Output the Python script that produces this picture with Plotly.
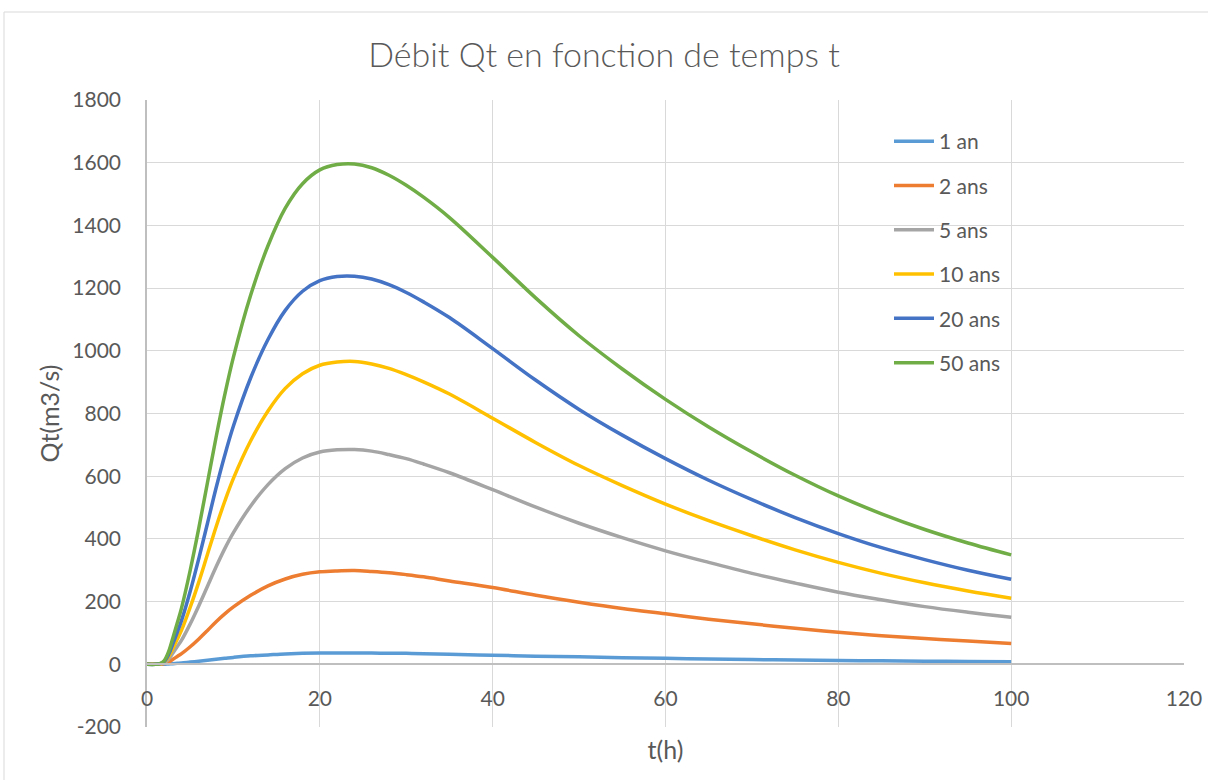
import plotly.graph_objects as go

# Time axis (hours)
t_h = [0, 1, 1.5, 2, 2.5, 3, 3.5, 4, 5, 6, 7, 8, 9, 10, 12, 14, 16, 18, 20, 22, 24, 26, 28, 30,
       32, 35, 40, 45, 50, 55, 60, 65, 70, 75, 80, 85, 90, 95, 100]

# Discharge Qt (m3/s) per return period
q_1an = [0, 0, 0, 0, 1, 2, 3, 4, 7, 10, 13, 16, 19, 22, 27, 30, 33, 35, 36, 36, 36, 36, 35, 35,
         34, 32, 29, 26, 24, 21, 19, 17, 15, 14, 12, 11, 10, 9, 8]
q_2ans = [0, 0, 0, 2, 7, 16, 25, 34, 56, 81, 108, 136, 161, 183, 220, 250, 272, 287, 295, 298, 299, 296, 292, 286,
          279, 266, 245, 220, 198, 178, 161, 144, 129, 115, 102, 91, 82, 74, 66]
q_5ans = [0, 0, 1, 5, 17, 36, 57, 77, 129, 187, 249, 311, 369, 420, 505, 573, 624, 658, 677, 684, 685, 680, 669, 656,
          639, 611, 557, 501, 450, 404, 362, 325, 290, 259, 230, 206, 184, 166, 150]
q_10ans = [0, 0, 1, 7, 24, 51, 80, 109, 182, 263, 351, 439, 520, 593, 713, 808, 880, 927, 954, 964, 966, 958, 944, 924,
           901, 862, 785, 707, 634, 570, 511, 458, 410, 365, 325, 290, 260, 234, 211]
q_20ans = [0, 0, 2, 9, 31, 66, 102, 140, 233, 338, 450, 563, 667, 760, 914, 1036, 1129, 1190, 1224, 1237, 1238, 1229, 1211, 1186,
           1156, 1106, 1007, 906, 813, 731, 656, 587, 525, 468, 417, 372, 334, 300, 271]
q_50ans = [0, 0, 2, 12, 40, 85, 132, 180, 300, 435, 580, 725, 860, 980, 1178, 1335, 1455, 1533, 1577, 1594, 1596, 1584, 1560, 1528,
           1490, 1425, 1298, 1168, 1048, 942, 845, 757, 677, 603, 537, 480, 430, 387, 349]

series_names = ["1 an", "2 ans", "5 ans", "10 ans", "20 ans", "50 ans"]
series_values = [q_1an, q_2ans, q_5ans, q_10ans, q_20ans, q_50ans]
series_colors = ["#5B9BD5", "#ED7D31", "#A5A5A5", "#FFC000", "#4472C4", "#70AD47"]

x_ticks = [0, 20, 40, 60, 80, 100, 120]
y_ticks = [-200, 0, 200, 400, 600, 800, 1000, 1200, 1400, 1600, 1800]
y_tick_labels = ["-200", "0", "200", "400", "600", "800", "1000", "1200", "1400", "1600", "1800"]

TEXT = "#595959"
GRID = "#d9d9d9"
FONT = "Lato"

fig = go.Figure()
for name, vals, col in zip(series_names, series_values, series_colors):
    fig.add_trace(go.Scatter(
        x=t_h, y=vals, name=name, mode="lines", legendgroup=name,
        line=dict(color=col, width=3.5, shape="spline", smoothing=1.0),
    ))

# plot area in pixels: left 147, right 1184, top 100, bottom 727
W, H = 1208, 780
L, R, T, B = 147, 24, 100, 53
pw, ph = W - L - R, H - T - B
zero_pos = (0 - y_ticks[0]) / (y_ticks[-1] - y_ticks[0])

fig.update_layout(
    width=W, height=H,
    margin=dict(l=L, r=R, t=T, b=B, autoexpand=False),
    paper_bgcolor="white", plot_bgcolor="white",
    font=dict(family=FONT, color=TEXT, size=21),
    title=dict(text="Débit Qt en fonction de temps t", x=0.5, xanchor="center",
               y=1 - 55 / H, yanchor="middle",
               font=dict(size=34, color=TEXT, family=FONT, weight=300)),
    showlegend=True,
    legend=dict(x=(889 - L) / pw, y=(H - B - 121) / ph, xanchor="left", yanchor="top",
                bgcolor="rgba(0,0,0,0)", font=dict(size=21, color=TEXT),
                tracegroupgap=14, itemwidth=40),
    xaxis=dict(range=[0, 120], tickvals=x_ticks, showgrid=True, gridcolor=GRID, gridwidth=1.3,
               zeroline=False, showline=True, linecolor="#bfbfbf", linewidth=1.5,
               anchor="free", position=zero_pos, ticks="", ticklabelstandoff=16,
               title=dict(text="t(h)", font=dict(size=25, color=TEXT), standoff=31),
               tickfont=dict(size=21, color=TEXT)),
    yaxis=dict(range=[-200, 1800], tickvals=y_ticks, ticktext=y_tick_labels,
               showgrid=True, gridcolor=GRID, gridwidth=1.3,
               zeroline=False, showline=True, linecolor="#bfbfbf", linewidth=1.5,
               ticks="", ticklabelstandoff=20,
               title=dict(text="Qt(m3/s)", font=dict(size=25, color=TEXT), standoff=6),
               tickfont=dict(size=21, color=TEXT)),
)

# chart frame
fig.add_shape(type="rect", xref="paper", yref="paper",
              x0=(4 - L) / pw, x1=(W + 10 - L) / pw,
              y0=(H - B - (H + 10)) / ph, y1=(H - B - 12) / ph,
              line=dict(color=GRID, width=1), fillcolor="rgba(0,0,0,0)", layer="below")

fig.write_html("out.html")
